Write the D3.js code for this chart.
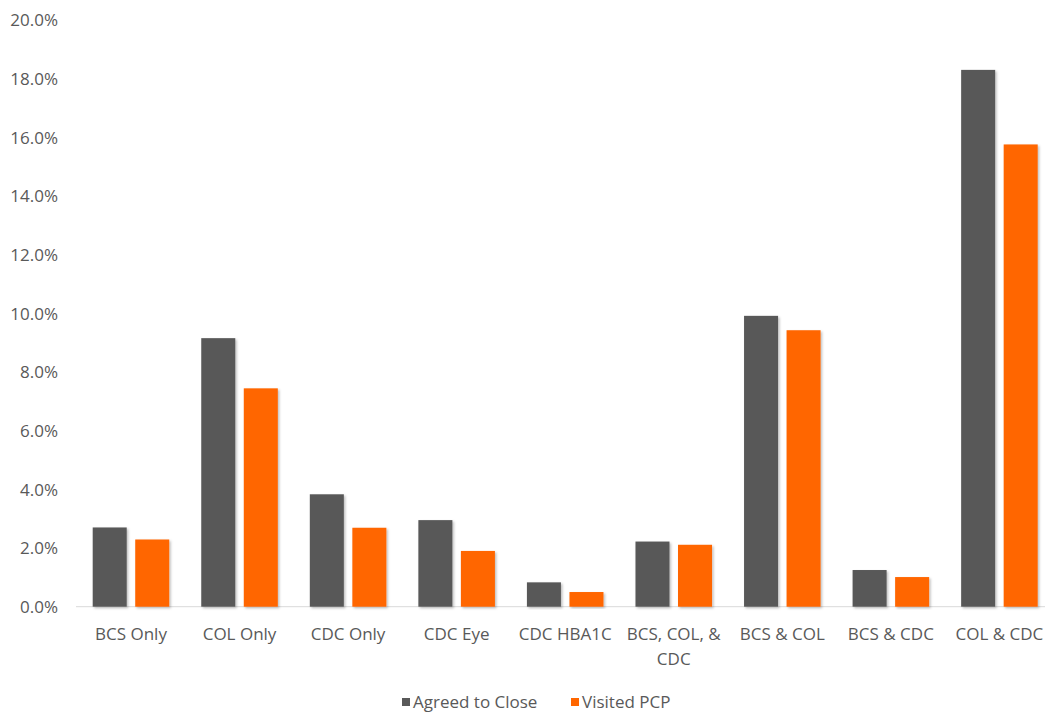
<!DOCTYPE html>
<html><head><meta charset="utf-8">
<script src="https://cdn.jsdelivr.net/npm/d3@7"></script>
<style>html,body{margin:0;padding:0;background:#fff;}svg{display:block;}</style>
</head><body>
<svg id="chart" width="1047" height="713"></svg>
<script>
const categories = ["BCS Only","COL Only","CDC Only","CDC Eye","CDC HBA1C","BCS, COL, & CDC","BCS & COL","BCS & CDC","COL & CDC"];
const categoryLines = [["BCS Only"],["COL Only"],["CDC Only"],["CDC Eye"],["CDC HBA1C"],["BCS, COL, &","CDC"],["BCS & COL"],["BCS & CDC"],["COL & CDC"]];
const seriesNames = ["Agreed to Close","Visited PCP"];
const agreedToClose = [2.70, 9.15, 3.83, 2.95, 0.83, 2.22, 9.91, 1.25, 18.29];
const visitedPCP = [2.29, 7.44, 2.69, 1.90, 0.50, 2.11, 9.42, 1.01, 15.75];
const yTicks = [0,2,4,6,8,10,12,14,16,18,20];
const colors = ["#595959","#FF6600"];

const svg = d3.select("#chart");
const font = "'Open Sans', sans-serif";
const fs = 17;
const x0 = d3.scaleBand().domain(categories).range([76.7, 1053.7]).paddingInner(0).paddingOuter(0);
const y = d3.scaleLinear().domain([0,20]).range([606.7, 19.7]);
const x1 = d3.scaleBand().domain(seriesNames).range([16, x0.bandwidth()-16]).paddingInner(0.2);

const defs = svg.append("defs");
const f = defs.append("filter").attr("id","sh").attr("x","-20%").attr("y","-5%").attr("width","150%").attr("height","115%");
f.append("feDropShadow").attr("dx",1.5).attr("dy",1.5).attr("stdDeviation",1.2).attr("flood-color","#000").attr("flood-opacity",0.25);

// axis baseline
svg.append("line").attr("x1",76).attr("x2",1045).attr("y1",y(0)).attr("y2",y(0))
  .attr("stroke","#d9d9d9").attr("stroke-width",1);

// y labels
const yAxis = d3.axisLeft(y).tickValues(yTicks).tickSize(0).tickFormat(d => d.toFixed(1)+"%");
const ya = svg.append("g").attr("transform","translate(58,0)").call(yAxis);
ya.select(".domain").remove();
ya.selectAll("text").attr("font-family",font).attr("font-size",fs).attr("fill","#595959").attr("x",0).attr("dy","0.35em");

const data = categories.map((c,i)=>({c, vals:[agreedToClose[i], visitedPCP[i]]}));
const g = svg.append("g");
data.forEach(d=>{
  d.vals.forEach((v,j)=>{
    g.append("rect")
      .attr("x", x0(d.c)+x1(seriesNames[j]))
      .attr("width", x1.bandwidth())
      .attr("y", y(v))
      .attr("height", y(0)-y(v))
      .attr("fill", colors[j])
      .attr("filter","url(#sh)");
  });
});

// x labels
categories.forEach((c,i)=>{
  const t = svg.append("text").attr("x", x0(c)+x0.bandwidth()/2).attr("y", 634)
    .attr("text-anchor","middle").attr("font-family",font).attr("font-size",fs).attr("fill","#595959");
  categoryLines[i].forEach((ln,k)=>{
    t.append("tspan").attr("x", x0(c)+x0.bandwidth()/2).attr("dy", k===0 ? "0.35em" : 25).text(ln);
  });
});

// legend
const legendX = [402, 571];
seriesNames.forEach((s,j)=>{
  svg.append("rect").attr("x",legendX[j]).attr("y",698).attr("width",8).attr("height",8).attr("fill",colors[j]);
  svg.append("text").attr("x",legendX[j]+11).attr("y",702).attr("dy","0.35em")
    .attr("font-family",font).attr("font-size",fs).attr("fill","#595959").text(s);
});
</script>
</body></html>
